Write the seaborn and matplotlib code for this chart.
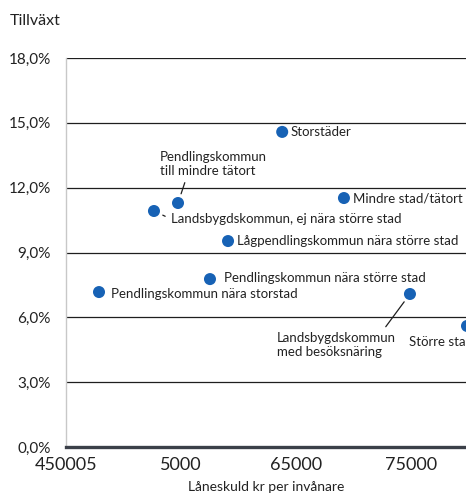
import matplotlib
matplotlib.use("Agg")
import matplotlib.pyplot as plt
import pandas as pd
import seaborn as sns

# kommungrupper, lånskuld (kr per invånare) och tillväxt (%)
groups = [
    "Storstäder",
    "Pendlingskommun\ntill mindre tätort",
    "Landsbygdskommun, ej nära större stad",
    "Mindre stad/tätort",
    "Lågpendlingskommun nära större stad",
    "Pendlingskommun nära större stad",
    "Pendlingskommun nära storstad",
    "Landsbygdskommun\nmed besöksnäring",
    "Större stad",
]
loan = [63800, 54740, 52650, 69170, 59090, 57520, 47870, 74910, 79870]
growth = [14.58, 11.29, 10.92, 11.52, 9.53, 7.77, 7.17, 7.08, 5.60]

x_ticks = [45000, 55000, 65000, 75000]
x_tick_labels = ["450005", "5000", "65000", "75000"]
y_ticks = [0, 3, 6, 9, 12, 15, 18]
y_tick_labels = ["0,0%", "3,0%", "6,0%", "9,0%", "12,0%", "15,0%", "18,0%"]

df = pd.DataFrame({"grupp": groups, "laneskuld": loan, "tillvaxt": growth})

sns.set_style("white")
plt.rcParams["font.family"] = ["Lato", "DejaVu Sans"]

W, H = 466, 501
fig = plt.figure(figsize=(W / 100, H / 100), dpi=100)
ax = fig.add_axes([66 / W, 54 / H, 400 / W, 389 / H])

sns.scatterplot(data=df, x="laneskuld", y="tillvaxt", ax=ax, color="#1762b5",
                s=75, edgecolor="none", zorder=4, clip_on=True)

ax.set_xlim(45000, 79783)
ax.set_ylim(0, 18)
ax.set_xticks(x_ticks)
ax.set_xticklabels(x_tick_labels, fontsize=13, color="#222222")
ax.set_yticks(y_ticks)
ax.set_yticklabels(y_tick_labels, fontsize=11, color="#222222")
ax.tick_params(axis="both", length=0)
ax.tick_params(axis="y", pad=11)
ax.tick_params(axis="x", pad=7)

ax.yaxis.grid(True, color="#1e1e1e", linewidth=0.9, zorder=1)
ax.xaxis.grid(False)
for s in ["top", "right"]:
    ax.spines[s].set_visible(False)
ax.spines["left"].set_color("#c8c8c8")
ax.spines["left"].set_linewidth(1.0)
ax.spines["bottom"].set_color("#3b4049")
ax.spines["bottom"].set_linewidth(2.4)
ax.spines["bottom"].set_zorder(3)

ax.set_xlabel("Låneskuld kr per invånare", fontsize=10, color="#222222", labelpad=6)
ax.set_ylabel("")
fig.text(10 / W, 1 - 21 / H, "Tillväxt", fontsize=11.5, color="#222222",
         ha="left", va="center")

# etikettplacering: (dx, dy) i pixlar, justering, ledlinje
label_style = {
    "Storstäder": ((8, 0), "left", "center", None),
    "Pendlingskommun\ntill mindre tätort": ((-18, 39), "left", "center", (0.25, 0.0)),
    "Landsbygdskommun, ej nära större stad": ((17, -8), "left", "center", (0.0, 0.5)),
    "Mindre stad/tätort": ((9, 0), "left", "center", None),
    "Lågpendlingskommun nära större stad": ((9, 0), "left", "center", None),
    "Pendlingskommun nära större stad": ((14, 1), "left", "center", None),
    "Pendlingskommun nära storstad": ((12, -2), "left", "center", None),
    "Landsbygdskommun\nmed besöksnäring": ((-133, -51), "left", "center", (0.88, 1.0)),
    "Större stad": ((-58, -16), "left", "center", None),
}

for name, xv, yv in zip(groups, loan, growth):
    (dx, dy), ha, va, rel = label_style[name]
    arrow = None
    if rel is not None:
        arrow = dict(arrowstyle="-", color="#1e1e1e", lw=0.9,
                     shrinkA=2, shrinkB=7, relpos=rel)
    ax.annotate(name, xy=(xv, yv), xytext=(dx, dy), textcoords="offset pixels",
                ha=ha, va=va, fontsize=9.5, color="#222222",
                linespacing=1.15, arrowprops=arrow, zorder=5,
                annotation_clip=False)

fig.savefig("out.png", dpi=100)
plt.close(fig)
